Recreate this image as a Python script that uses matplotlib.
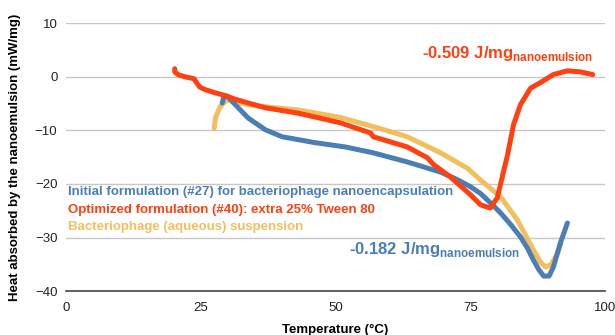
import matplotlib
matplotlib.use("Agg")
import matplotlib.pyplot as plt

plt.rcParams['font.family'] = ['Liberation Sans', 'DejaVu Sans']
plt.rcParams['mathtext.fontset'] = 'custom'
plt.rcParams['mathtext.bf'] = 'Liberation Sans:bold'
plt.rcParams['mathtext.rm'] = 'Liberation Sans'

# curves (temperature degC, heat mW/mg)
initial_t = [29.0, 29.3, 29.9, 31.5, 33.8, 37.0, 40.1, 46.2, 51.8, 57.0, 63.3, 69.5,
             72.6, 75.0, 76.9, 78.7, 80.6, 82.5, 84.3, 85.6, 86.7, 87.7, 88.6, 89.6,
             90.4, 91.7, 93.0]
initial_h = [-4.9, -3.8, -3.6, -5.3, -7.7, -9.9, -11.2, -12.3, -13.1, -14.2, -15.9, -17.8,
             -19.2, -20.5, -21.8, -23.5, -25.4, -27.6, -29.9, -32.0, -34.2, -36.0, -37.2,
             -37.2, -35.5, -31.0, -27.3]

optimized_t = [20.2, 20.2, 20.8, 22.0, 23.0, 23.8, 24.3, 24.8, 25.8, 27.7, 29.5, 31.4,
               33.8, 37.0, 43.1, 50.9, 56.5, 57.0, 63.3, 67.0, 68.2, 71.3, 75.0,
               76.9, 78.7, 80.0, 81.9, 83.0, 84.3, 86.2, 88.0, 90.4, 93.0, 95.4, 97.7]
optimized_h = [1.5, 0.9, 0.4, 0.0, -0.2, -0.4, -1.2, -1.9, -2.4, -3.0, -3.5, -4.2,
               -4.9, -5.8, -6.8, -8.6, -10.5, -11.2, -13.1, -15.1, -16.4, -18.7, -22.0,
               -23.9, -24.5, -22.6, -14.6, -9.0, -5.2, -2.1, -1.1, 0.4, 1.1, 0.9, 0.4]

phage_t = [27.5, 27.8, 28.6, 29.9, 31.0, 33.8, 37.0, 43.1, 50.9, 57.0, 63.3, 69.5,
           74.5, 76.9, 80.6, 83.7, 86.7, 88.0, 89.0, 90.0, 91.2, 91.8]
phage_h = [-9.6, -7.5, -5.6, -4.3, -4.6, -5.2, -5.6, -6.2, -7.6, -9.3, -11.2, -14.2,
           -17.1, -19.3, -22.4, -26.7, -32.3, -34.6, -35.5, -35.0, -32.9, -31.0]

blue = '#4a7eb5'
red = '#ff4010'
yellow = '#f2bf5e'

fig = plt.figure(figsize=(6.15, 3.35), dpi=100)
ax = fig.add_axes([0.107, 0.131, 0.877, 0.8])

ax.plot(phage_t, phage_h, color=yellow, lw=3.6, solid_capstyle='round',
        solid_joinstyle='round', zorder=3)
ax.plot(initial_t, initial_h, color=blue, lw=3.6, solid_capstyle='round',
        solid_joinstyle='round', zorder=4)
ax.plot(optimized_t, optimized_h, color=red, lw=3.6, solid_capstyle='round',
        solid_joinstyle='round', zorder=5)

ax.set_xlim(0, 100)
ax.set_ylim(-40, 10)
ax.set_xticks([0, 25, 50, 75, 100])
ax.set_yticks([-40, -30, -20, -10, 0, 10])
ax.grid(axis='y', color='#c8c8c8', lw=1)
ax.set_axisbelow(True)
for s in ['left', 'right', 'top']:
    ax.spines[s].set_visible(False)
ax.spines['bottom'].set_color('#444444')
ax.spines['bottom'].set_linewidth(1.2)
ax.tick_params(axis='x', length=0, labelsize=9.5, colors='#222222', pad=8)
ax.tick_params(axis='y', length=0, labelsize=9.5, colors='#222222', pad=6)

ax.set_xlabel('Temperature (°C)', fontsize=9.5, fontweight='bold', labelpad=7)
ax.set_ylabel('Heat absorbed by the nanoemulsion (mW/mg)', fontsize=9.5,
              fontweight='bold', labelpad=10)

# legend written as coloured text lines
ax.text(0.4, -21.6, 'Initial formulation (#27) for bacteriophage nanoencapsulation',
        color=blue, fontsize=9.5, fontweight='bold', va='center')
ax.text(0.4, -24.8, 'Optimized formulation (#40): extra 25% Tween 80',
        color=red, fontsize=9.5, fontweight='bold', va='center')
ax.text(0.4, -28.0, 'Bacteriophage (aqueous) suspension',
        color=yellow, fontsize=9.5, fontweight='bold', va='center')

ax.text(66, 4.4, r'-0.509 J/mg$_{\mathbf{nanoemulsion}}$', color=red,
        fontsize=12, fontweight='bold', va='center')
ax.text(52.5, -32.2, r'-0.182 J/mg$_{\mathbf{nanoemulsion}}$', color=blue,
        fontsize=12, fontweight='bold', va='center')

fig.savefig('out.png', dpi=100)
